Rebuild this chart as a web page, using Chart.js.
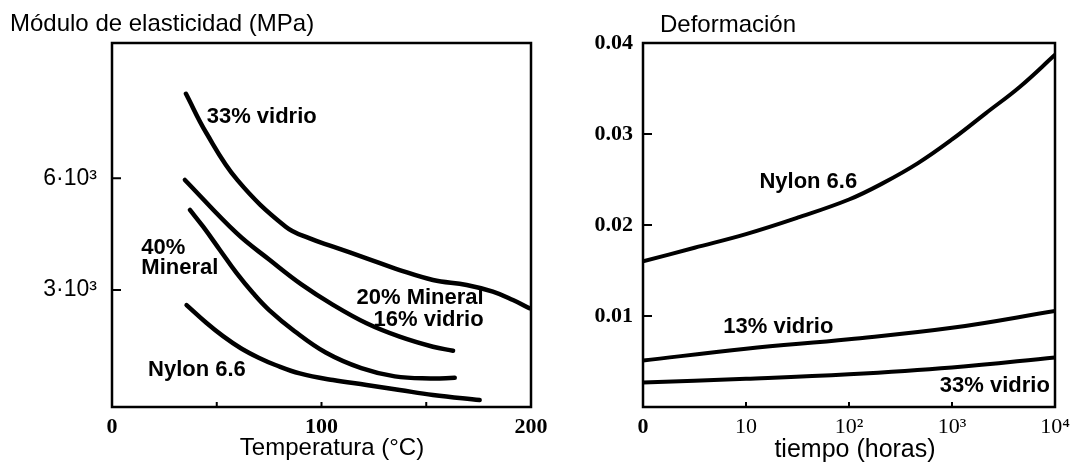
<!DOCTYPE html>
<html>
<head>
<meta charset="utf-8">
<title>Módulo de elasticidad y deformación</title>
<script src="https://cdn.jsdelivr.net/npm/chart.js@4.4.1/dist/chart.umd.min.js"></script>
<style>
  html, body { margin: 0; padding: 0; background: #fff; }
  #wrap { position: relative; width: 1078px; height: 462px; overflow: hidden; }
  #left { position: absolute; left: 0; top: 0; }
  #right { position: absolute; left: 560px; top: 0; }
</style>
</head>
<body>
<div id="wrap">
  <canvas id="left" width="560" height="462"></canvas>
  <canvas id="right" width="518" height="462"></canvas>
</div>
<script>
// left panel: modulus (MPa) vs temperature (°C)
const tempTicks = [0, 50, 100, 150, 200];
const tempTickLabels = ["0", "", "100", "", "200"];
const modTicks = [3000, 6000];
const modTickLabels = ["3·10³", "6·10³"];

const glass33Temp = [35.3, 45.1, 59.9, 82.9, 94.4, 105.5, 121.5, 137.3, 153.2, 169.3, 181.8, 191.4, 199.3];
const glass33Mod = [8270, 7210, 5950, 4700, 4385, 4165, 3850, 3535, 3270, 3135, 2955, 2730, 2510];
const mineral20Temp = [34.8, 59.5, 75.3, 90.4, 105.5, 121.5, 137.3, 153.2, 162.8];
const mineral20Mod = [5955, 4525, 3805, 3150, 2600, 2105, 1745, 1475, 1370];
const mineral40Temp = [37.2, 43.5, 51.5, 59.5, 67.4, 75.0, 87.0, 102.0, 119.0, 135.0, 152.0, 163.6];
const mineral40Mod = [5150, 4700, 4075, 3450, 2910, 2460, 1900, 1320, 900, 680, 625, 640];
const nylonTemp = [35.6, 45.0, 53.0, 61.5, 70.0, 78.0, 89.6, 105.5, 121.5, 137.3, 153.2, 175.5];
const nylonMod = [2595, 2120, 1760, 1435, 1180, 985, 760, 580, 450, 315, 180, 45];

// right panel: strain vs time (decades: 0, 10, 10², 10³, 10⁴ h)
const timeTicks = [0, 1, 2, 3, 4];
const timeTickLabels = ["0", "10", "10²", "10³", "10⁴"];
const strainTicks = [0.01, 0.02, 0.03, 0.04];
const strainTickLabels = ["0.01", "0.02", "0.03", "0.04"];

const nylonTime = [0, 0.5, 1.0, 1.5, 2.0, 2.33, 2.67, 3.0, 3.33, 3.66, 4.0];
const nylonStrain = [0.0160, 0.0175, 0.0190, 0.0208, 0.0228, 0.0246, 0.0268, 0.0294, 0.0323, 0.0352, 0.0387];
const glass13Time = [0, 1, 2, 3, 4];
const glass13Strain = [0.0051, 0.0064, 0.00745, 0.0087, 0.01055];
const glass33Time = [0, 1, 2, 3, 4];
const glass33Strain = [0.0027, 0.0031, 0.0036, 0.00435, 0.00545];

const SANS = '"Liberation Sans", Arial, sans-serif';
const SERIF = '"Liberation Serif", "Times New Roman", serif';

function series(name, xs, ys, width) {
  return {
    label: name,
    data: xs.map((x, i) => ({ x: x, y: ys[i] })),
    borderColor: "#000",
    borderWidth: width,
    borderCapStyle: "round",
    borderJoinStyle: "round",
    pointRadius: 0,
    fill: false,
    tension: 0.4
  };
}

// frame, inward ticks and free text
const framePlugin = {
  id: "frame",
  afterDraw(chart, args, opts) {
    const ctx = chart.ctx;
    const a = chart.chartArea;
    const sx = chart.scales.x;
    const sy = chart.scales.y;
    ctx.save();
    ctx.strokeStyle = "#000";
    ctx.lineWidth = 2.5;
    ctx.strokeRect(a.left, a.top, a.right - a.left, a.bottom - a.top);

    ctx.lineWidth = 2;
    ctx.beginPath();
    sx.ticks.forEach(t => {
      if (t.value <= sx.min || t.value >= sx.max) return;
      const px = sx.getPixelForValue(t.value);
      ctx.moveTo(px, a.bottom);
      ctx.lineTo(px, a.bottom - 5);
    });
    sy.ticks.forEach(t => {
      if (t.value <= sy.min || t.value >= sy.max) return;
      const py = sy.getPixelForValue(t.value);
      ctx.moveTo(a.left, py);
      ctx.lineTo(a.left + 9, py);
    });
    ctx.stroke();

    ctx.fillStyle = "#000";
    ctx.textBaseline = "middle";
    ctx.font = "bold 22px " + SANS;
    (opts.labels || []).forEach(l => {
      ctx.textAlign = l.align || "left";
      ctx.fillText(l.text, sx.getPixelForValue(l.x), sy.getPixelForValue(l.y));
    });
    (opts.titles || []).forEach(t => {
      ctx.font = t.size + "px " + SANS;
      ctx.textAlign = t.align;
      ctx.fillText(t.text, t.px, t.py);
    });
    ctx.restore();
  }
};

function axis(min, max, tickValues, tickLabels, fit, font, padding) {
  return {
    type: "linear",
    min: min,
    max: max,
    grid: { display: false, drawTicks: false },
    border: { display: false },
    afterBuildTicks: s => { s.ticks = tickValues.map(v => ({ value: v })); },
    afterFit: fit,
    ticks: {
      callback: (v, i) => tickLabels[i],
      color: "#000",
      font: font,
      padding: padding,
      autoSkip: false,
      maxRotation: 0
    }
  };
}

new Chart(document.getElementById("left"), {
  type: "line",
  data: {
    datasets: [
      series("33% vidrio", glass33Temp, glass33Mod, 4.5),
      series("20% Mineral 16% vidrio", mineral20Temp, mineral20Mod, 4.5),
      series("40% Mineral", mineral40Temp, mineral40Mod, 4.5),
      series("Nylon 6.6", nylonTemp, nylonMod, 4.5)
    ]
  },
  options: {
    responsive: false,
    animation: false,
    layout: { padding: { left: 0, right: 29, top: 43, bottom: 0 } },
    plugins: {
      legend: { display: false },
      tooltip: { enabled: false },
      frame: {
        labels: [
          { text: "33% vidrio", x: 45.2, y: 7650 },
          { text: "40%", x: 14, y: 4140 },
          { text: "Mineral", x: 14, y: 3590 },
          { text: "20% Mineral", x: 177.4, y: 2795, align: "right" },
          { text: "16% vidrio", x: 177.4, y: 2195, align: "right" },
          { text: "Nylon 6.6", x: 17.2, y: 850 }
        ],
        titles: [
          { text: "Módulo de elasticidad (MPa)", px: 10, py: 24, align: "left", size: 24 },
          { text: "Temperatura (°C)", px: 332, py: 448, align: "center", size: 24 }
        ]
      }
    },
    scales: {
      x: axis(0, 200, tempTicks, tempTickLabels, s => { s.height = 55; },
        { family: SERIF, size: 22, weight: "bold" }, 7),
      y: axis(-143, 9634, modTicks, modTickLabels, s => { s.width = 112; },
        { family: SANS, size: 23 }, 15)
    }
  },
  plugins: [framePlugin]
});

new Chart(document.getElementById("right"), {
  type: "line",
  data: {
    datasets: [
      series("Nylon 6.6", nylonTime, nylonStrain, 4),
      series("13% vidrio", glass13Time, glass13Strain, 4),
      series("33% vidrio", glass33Time, glass33Strain, 4)
    ]
  },
  options: {
    responsive: false,
    animation: false,
    layout: { padding: { left: 0, right: 23, top: 43, bottom: 0 } },
    plugins: {
      legend: { display: false },
      tooltip: { enabled: false },
      frame: {
        labels: [
          { text: "Nylon 6.6", x: 1.13, y: 0.0247 },
          { text: "13% vidrio", x: 0.78, y: 0.0088 },
          { text: "33% vidrio", x: 3.95, y: 0.0023, align: "right" }
        ],
        titles: [
          { text: "Deformación", px: 100, py: 25, align: "left", size: 24 },
          { text: "tiempo (horas)", px: 295, py: 450, align: "center", size: 25 }
        ]
      }
    },
    scales: {
      x: axis(0, 4, timeTicks, timeTickLabels, s => { s.height = 55; },
        ctx => ({ family: SERIF, size: 22, weight: ctx.index === 0 ? "bold" : "normal" }), 7),
      y: axis(0, 0.04, strainTicks, strainTickLabels, s => { s.width = 83; },
        { family: SERIF, size: 22, weight: "bold" }, 10)
    }
  },
  plugins: [framePlugin]
});
</script>
</body>
</html>
